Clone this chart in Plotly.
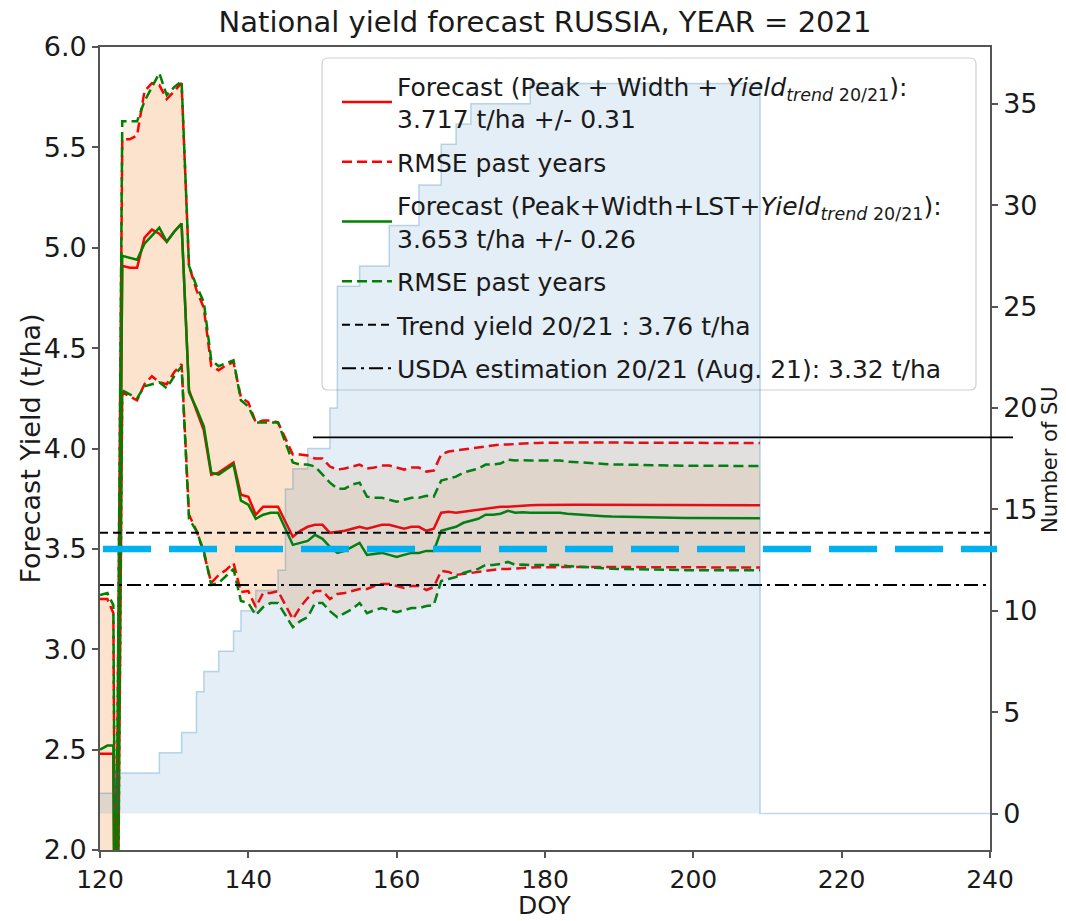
import plotly.graph_objects as go

# ---------------------------------------------------------------- data
# DOY of each forecast; the drop around DOY 122 is sampled twice
doy = [120, 121, 121.8, 122.1] + list(range(123, 210))

# Forecast (Peak + Width + Yield trend), t/ha
fc_pw = [
    2.48, 2.48, 2.48, 0.80,                                        # 120-122
    4.91, 4.90, 4.90, 5.05, 5.09, 5.07, 5.03,                      # 123-129
    5.08, 5.12, 4.29, 4.19, 4.09, 3.87, 3.88, 3.905, 3.93, 3.77,   # 130-139
    3.76, 3.67, 3.71, 3.71, 3.71, 3.635, 3.56, 3.59, 3.61, 3.62,   # 140-149
    3.62, 3.58, 3.585, 3.59, 3.60, 3.61, 3.60, 3.61, 3.62, 3.62,   # 150-159
    3.61, 3.60, 3.61, 3.61, 3.59, 3.60, 3.68, 3.685, 3.68, 3.685,  # 160-169
    3.69, 3.695, 3.70, 3.705, 3.71, 3.71, 3.713, 3.715, 3.717, 3.718,  # 170-179
    3.719, 3.72, 3.72, 3.72, 3.72, 3.72, 3.72, 3.72, 3.72, 3.72,   # 180-189
    3.72, 3.719, 3.719, 3.719, 3.719, 3.719, 3.719, 3.719, 3.719, 3.719,  # 190-199
    3.719, 3.717, 3.717, 3.717, 3.717, 3.717, 3.717, 3.717, 3.717, 3.717,  # 200-209
]
rmse_pw = [
    0.77, 0.77, 0.70, 0.60,
    0.63, 0.64, 0.66, 0.73, 0.73, 0.74, 0.71,
    0.70, 0.70, 0.62, 0.60, 0.61, 0.54, 0.51, 0.51, 0.50, 0.485,
    0.47, 0.46, 0.43, 0.43, 0.42, 0.415, 0.41, 0.38, 0.355, 0.33,
    0.33, 0.33, 0.31, 0.31, 0.31, 0.31, 0.30, 0.295, 0.295, 0.295,
    0.295, 0.295, 0.295, 0.295, 0.295, 0.29, 0.29, 0.30, 0.31, 0.31,
    0.31, 0.31, 0.31, 0.31, 0.31, 0.31, 0.31, 0.31, 0.31, 0.31,
    0.31, 0.31, 0.31, 0.31, 0.31, 0.31, 0.31, 0.31, 0.31, 0.31,
    0.31, 0.31, 0.31, 0.31, 0.31, 0.31, 0.31, 0.31, 0.31, 0.31,
    0.31, 0.31, 0.31, 0.31, 0.31, 0.31, 0.31, 0.31, 0.31, 0.31,
]

# Forecast (Peak + Width + LST + Yield trend), t/ha
fc_pwl = [
    2.50, 2.52, 2.52, 0.80,
    4.96, 4.95, 4.94, 5.02, 5.06, 5.10, 5.03,
    5.08, 5.12, 4.28, 4.20, 4.11, 3.88, 3.87, 3.895, 3.92, 3.74,
    3.72, 3.65, 3.67, 3.68, 3.68, 3.60, 3.52, 3.53, 3.54, 3.57,
    3.55, 3.51, 3.48, 3.49, 3.51, 3.53, 3.47, 3.475, 3.48, 3.47,
    3.46, 3.47, 3.48, 3.48, 3.49, 3.49, 3.59, 3.60, 3.61, 3.63,
    3.64, 3.65, 3.67, 3.67, 3.675, 3.69, 3.68, 3.682, 3.68, 3.68,
    3.68, 3.68, 3.68, 3.675, 3.672, 3.67, 3.668, 3.665, 3.663, 3.661,
    3.66, 3.659, 3.658, 3.657, 3.656, 3.655, 3.654, 3.654, 3.654, 3.654,
    3.654, 3.654, 3.654, 3.653, 3.653, 3.653, 3.653, 3.653, 3.653, 3.653,
]
rmse_pwl = [
    0.77, 0.76, 0.70, 0.60,
    0.67, 0.68, 0.69, 0.71, 0.74, 0.77, 0.73,
    0.72, 0.71, 0.63, 0.61, 0.62, 0.56, 0.54, 0.53, 0.52, 0.50,
    0.49, 0.48, 0.46, 0.45, 0.45, 0.43, 0.41, 0.39, 0.38, 0.34,
    0.32, 0.32, 0.32, 0.31, 0.31, 0.30, 0.29, 0.28, 0.275, 0.275,
    0.275, 0.275, 0.275, 0.275, 0.275, 0.27, 0.25, 0.25, 0.25, 0.25,
    0.25, 0.25, 0.25, 0.25, 0.25, 0.255, 0.26, 0.26, 0.26, 0.26,
    0.26, 0.26, 0.26, 0.26, 0.26, 0.26, 0.26, 0.26, 0.26, 0.26,
    0.26, 0.26, 0.26, 0.26, 0.26, 0.26, 0.26, 0.26, 0.26, 0.26,
    0.26, 0.26, 0.26, 0.26, 0.26, 0.26, 0.26, 0.26, 0.26, 0.26,
]

# Number of spatial units used, as a step series (value holds until next DOY)
su_doy = [120, 122, 128, 131, 133, 134, 136, 138, 139, 141, 144, 145, 146,
          148, 151, 152, 155, 159, 163, 166, 168, 170, 178, 209, 240]
su_count = [1, 2, 3, 4, 6, 7, 8, 9, 10, 11, 12, 16, 17,
            18, 20, 26, 27, 29, 31, 33, 34, 35, 36, 0, 0]

trend_yield_text = 3.76     # value quoted for the trend yield
trend_line_level = 3.58     # level at which the trend line is drawn
usda_yield = 3.32
reference_level = 3.50      # highlighted reference level (thick cyan dashes)
upper_mark_level = 4.055    # thin black marker line

x_range = [120, 240]
y_range = [2.0, 6.0]
y2_range = [-1.8, 37.8]

# ---------------------------------------------------------------- helpers
up_pw = [f + r for f, r in zip(fc_pw, rmse_pw)]
lo_pw = [f - r for f, r in zip(fc_pw, rmse_pw)]
up_pwl = [f + r for f, r in zip(fc_pwl, rmse_pwl)]
lo_pwl = [f - r for f, r in zip(fc_pwl, rmse_pwl)]

FONT = "DejaVu Sans"
TXT = "#1a1a1a"
RED = "#ff0000"
GREEN = "#008000"
BAND = "rgba(244,164,96,0.17)"
AX = "#555555"

fig = go.Figure()

# RMSE bands (filled areas)
for lo, up in ((lo_pw, up_pw), (lo_pwl, up_pwl)):
    fig.add_trace(go.Scatter(x=doy, y=lo, mode="lines", line=dict(width=0),
                             showlegend=False, hoverinfo="skip"))
    fig.add_trace(go.Scatter(x=doy, y=up, mode="lines", line=dict(width=0),
                             fill="tonexty", fillcolor=BAND,
                             showlegend=False, hoverinfo="skip"))

sub = "<i>Yield</i><sub><i>trend</i> 20/21</sub>"
name_pw = (f"Forecast (Peak + Width + {sub}):<br>"
           f"{fc_pw[-1]:.3f} t/ha +/- {rmse_pw[-1]:.2f}")
name_pwl = (f"Forecast (Peak+Width+LST+{sub}):<br>"
            f"{fc_pwl[-1]:.3f} t/ha +/- {rmse_pwl[-1]:.2f}")

dash_rmse = "10px,5px"

# RMSE boundary lines
fig.add_trace(go.Scatter(x=doy, y=up_pw, mode="lines", name="RMSE past years",
                         line=dict(color=RED, width=2.5, dash=dash_rmse),
                         legendgroup="b", legendrank=2))
fig.add_trace(go.Scatter(x=doy, y=lo_pw, mode="lines", showlegend=False,
                         line=dict(color=RED, width=2.5, dash=dash_rmse),
                         legendgroup="b"))
fig.add_trace(go.Scatter(x=doy, y=up_pwl, mode="lines", name="RMSE past years",
                         line=dict(color=GREEN, width=2.5, dash=dash_rmse),
                         legendgroup="d", legendrank=4))
fig.add_trace(go.Scatter(x=doy, y=lo_pwl, mode="lines", showlegend=False,
                         line=dict(color=GREEN, width=2.5, dash=dash_rmse),
                         legendgroup="d"))

# Forecast lines
fig.add_trace(go.Scatter(x=doy, y=fc_pw, mode="lines", name=name_pw,
                         line=dict(color=RED, width=2.5),
                         legendgroup="a", legendrank=1))
fig.add_trace(go.Scatter(x=doy, y=fc_pwl, mode="lines", name=name_pwl,
                         line=dict(color=GREEN, width=2.5),
                         legendgroup="c", legendrank=3))

# Horizontal reference lines
fig.add_trace(go.Scatter(x=x_range, y=[trend_line_level] * 2, mode="lines",
                         name=f"Trend yield 20/21 : {trend_yield_text:.2f} t/ha",
                         line=dict(color="black", width=2, dash="8px,5px"),
                         legendgroup="e", legendrank=5))
fig.add_trace(go.Scatter(x=x_range, y=[usda_yield] * 2, mode="lines",
                         name=f"USDA estimation 20/21 (Aug. 21): {usda_yield:.2f} t/ha",
                         line=dict(color="black", width=2, dash="14px,5px,3px,5px"),
                         legendgroup="f", legendrank=6))

# Number of SU on the secondary axis
fig.add_trace(go.Scatter(x=su_doy, y=su_count, mode="lines", line_shape="hv",
                         line=dict(color="rgba(31,119,180,0.28)", width=1.5),
                         fill="tozeroy", fillcolor="rgba(31,119,180,0.12)",
                         yaxis="y2", showlegend=False, hoverinfo="skip"))

# ---------------------------------------------------------------- layout
plot_l, plot_r, plot_t, plot_b = 100, 990, 47, 850
W, H = 1066, 921


def px_x(px):
    return (px - plot_l) / (plot_r - plot_l)


def px_y(py):
    return (plot_b - py) / (plot_b - plot_t)


# legend frame (rounded box)
x0, x1 = px_x(322), px_x(976)
y0, y1 = px_y(390), px_y(58)
rx = 6 / (plot_r - plot_l)
ry = 6 / (plot_b - plot_t)
frame = (f"M {x0 + rx},{y0} L {x1 - rx},{y0} Q {x1},{y0} {x1},{y0 + ry} "
         f"L {x1},{y1 - ry} Q {x1},{y1} {x1 - rx},{y1} L {x0 + rx},{y1} "
         f"Q {x0},{y1} {x0},{y1 - ry} L {x0},{y0 + ry} Q {x0},{y0} {x0 + rx},{y0} Z")

shapes = [
    dict(type="path", path=frame, xref="paper", yref="paper", layer="below",
         fillcolor="white", line=dict(color="#d0d0d0", width=1.2)),
    dict(type="line", xref="paper", yref="y", x0=px_x(103), x1=px_x(997),
         y0=reference_level, y1=reference_level, layer="above",
         line=dict(color="#00b0f0", width=6.5, dash="48px,18px")),
    dict(type="line", xref="paper", yref="y", x0=px_x(313), x1=px_x(1013),
         y0=upper_mark_level, y1=upper_mark_level, layer="above",
         line=dict(color="black", width=1.8)),
]

# axis titles
annotations = [
    dict(text="DOY", xref="paper", yref="paper", x=0.5, y=px_y(921),
         xanchor="center", yanchor="bottom", showarrow=False, borderpad=0,
         font=dict(family=FONT, size=25, color=TXT)),
    dict(text="Forecast Yield (t/ha)", xref="paper", yref="paper",
         x=px_x(30), y=0.5, textangle=-90, xanchor="center", yanchor="middle",
         showarrow=False, font=dict(family=FONT, size=27, color=TXT)),
    dict(text="Number of SU", xref="paper", yref="paper",
         x=px_x(1050), y=px_y(460), textangle=-90, xanchor="center",
         yanchor="middle", showarrow=False,
         font=dict(family=FONT, size=21, color=TXT)),
]

axis_common = dict(showline=True, linecolor=AX, linewidth=1.6,
                   ticks="outside", ticklen=6, tickcolor=AX, tickwidth=1.6,
                   showgrid=False, zeroline=False, automargin=False)

fig.update_layout(
    width=W, height=H,
    margin=dict(l=plot_l, r=W - plot_r, t=plot_t, b=H - plot_b),
    paper_bgcolor="white", plot_bgcolor="white",
    title=dict(text="National yield forecast RUSSIA, YEAR = 2021",
               font=dict(family=FONT, size=29, color=TXT),
               x=0.5, xref="paper", y=1 - 22 / H, yref="container",
               yanchor="middle", xanchor="center"),
    xaxis=dict(range=x_range, tickmode="array", tickvals=list(range(120, 241, 20)),
               mirror=True, tickfont=dict(family=FONT, size=25, color=TXT),
               **axis_common),
    yaxis=dict(range=y_range, tickmode="array",
               tickvals=[2.0, 2.5, 3.0, 3.5, 4.0, 4.5, 5.0, 5.5, 6.0],
               tickformat=".1f", tickfont=dict(family=FONT, size=27, color=TXT),
               **axis_common),
    yaxis2=dict(range=y2_range, overlaying="y", side="right", tickmode="array",
                tickvals=[0, 5, 10, 15, 20, 25, 30, 35],
                tickfont=dict(family=FONT, size=27, color=TXT), **axis_common),
    legend=dict(x=px_x(337), y=px_y(63), xanchor="left", yanchor="top",
                bgcolor="rgba(0,0,0,0)", borderwidth=0,
                font=dict(family=FONT, size=25, color=TXT),
                itemwidth=50, tracegroupgap=8, traceorder="grouped"),
    shapes=shapes,
    annotations=annotations,
    showlegend=True,
)

fig.write_html("out.html")
